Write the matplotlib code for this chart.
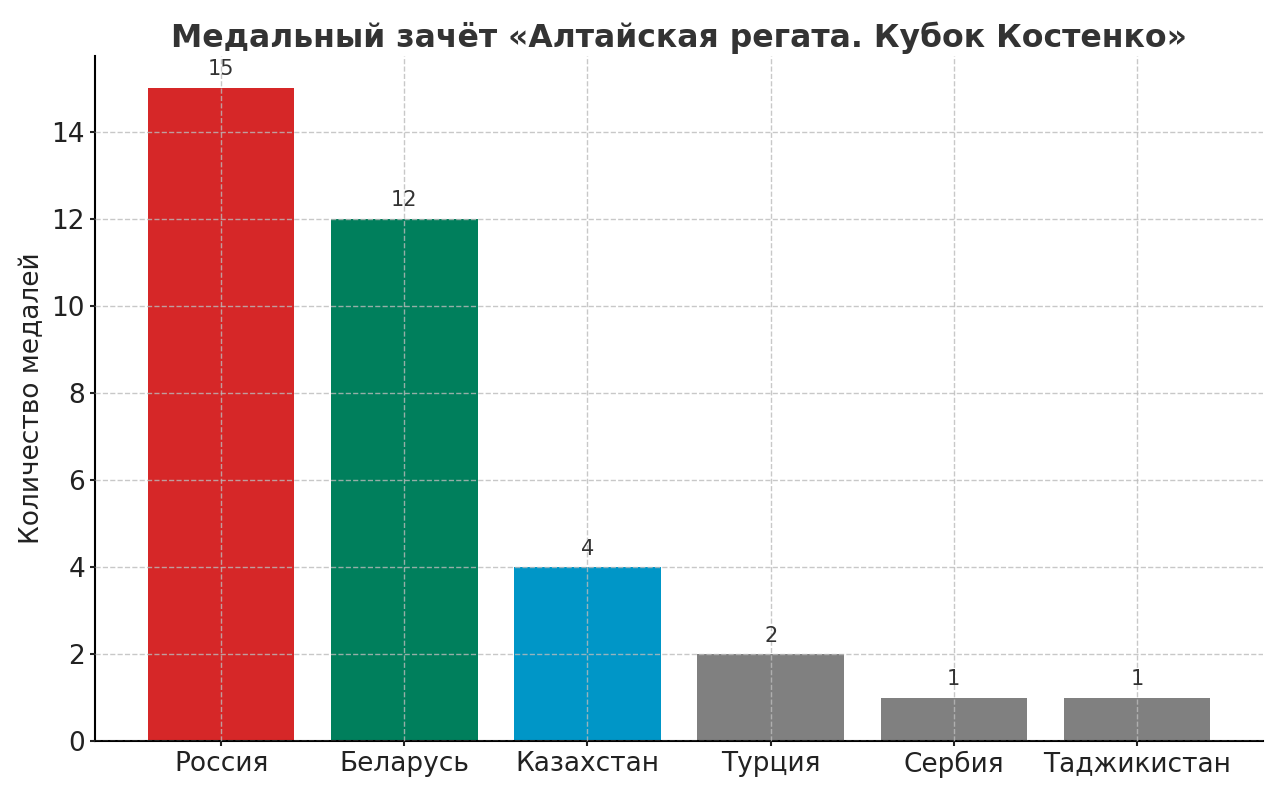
import numpy as np
import matplotlib.pyplot as plt

countries = ["Россия", "Беларусь", "Казахстан", "Турция", "Сербия", "Таджикистан"]
medals = [15, 12, 4, 2, 1, 1]
colors = ["#d62728", "#007f5c", "#0096c7", "#808080", "#808080", "#808080"]

plt.rcParams['font.family'] = ['DejaVu Sans']

fig, ax = plt.subplots(figsize=(12.8, 7.93), dpi=100)
bars = ax.bar(countries, medals, color=colors, width=0.8)

# подписи над столбцами
for b, v in zip(bars, medals):
    ax.text(b.get_x() + b.get_width() / 2, v + 0.2, str(v),
            ha="center", va="bottom", fontsize=15, color="#333333")

ax.set_title("Медальный зачёт «Алтайская регата. Кубок Костенко»",
             fontsize=22.7, fontweight="bold", color="#333333")
ax.set_ylabel("Количество медалей", fontsize=19, color="#222222", labelpad=5)
ax.tick_params(axis="both", labelsize=19, colors="#222222", width=1.5)

ax.grid(True, linestyle="--", color="#bbbbbb", linewidth=1, alpha=0.8)
ax.set_axisbelow(False)
ax.spines["top"].set_visible(False)
ax.spines["right"].set_visible(False)
ax.spines["left"].set_linewidth(1.5)
ax.spines["bottom"].set_linewidth(1.5)

plt.subplots_adjust(left=0.074, right=0.987, top=0.93, bottom=0.065)
plt.savefig("out.png")
